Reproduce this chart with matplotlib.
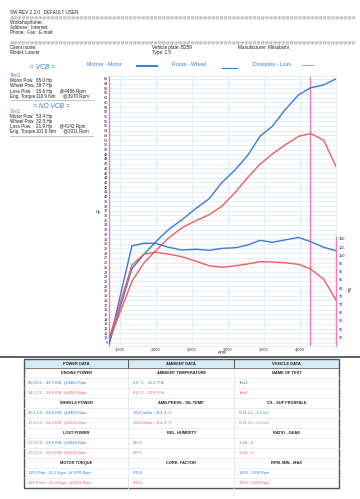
import matplotlib
matplotlib.use("Agg")
import matplotlib.pyplot as plt
from matplotlib.lines import Line2D
from matplotlib.patches import Rectangle

# ---------------- data ----------------
rpm = [1350, 1665, 1830, 1995, 2165, 2360, 2555, 2740, 2910, 3100, 3270,
       3445, 3620, 3785, 3980, 4148, 4328, 4500]
power_test1 = [8.9, 24.7, 27.7, 30.4, 32.9, 35.1, 37.5, 39.6, 42.9, 45.7, 48.7,
               52.8, 55.0, 58.3, 61.6, 63.1, 63.7, 65.0]
power_test2 = [9.5, 22.0, 25.9, 28.5, 31.1, 33.4, 34.9, 36.2, 37.9, 40.9, 44.0,
               46.9, 49.1, 50.9, 52.8, 53.4, 52.0, 46.4]
torque_test1 = [46.5, 105.7, 107.3, 107.3, 105.0, 103.2, 103.7, 103.0, 104.2, 104.6, 106.2,
                109.1, 107.9, 109.3, 110.9, 108.3, 104.9, 102.8]
torque_test2 = [49.4, 94.0, 100.6, 101.9, 100.8, 99.1, 96.4, 93.6, 92.7, 93.6, 94.7,
                96.1, 95.9, 95.5, 94.5, 91.6, 85.5, 72.7]
marker_rpm = 4142

hp_ticks = list(range(9, 66))
nm_ticks = list(range(50, 111, 5))
rpm_ticks = [1500, 2000, 2500, 3000, 3500, 4000]
rpm_tick_labels = ["1,500", "2,000", "2,500", "3,000", "3,500", "4,000"]

header_lines = ["SW REV 2.2.0   DEFAULT USER", "Workshop/tuner:", "Address:  Internet:", "Phone:  Fax:  E-mail:"]
client_left = ["Client name:", "Model: Lancer"]
client_mid = ["Vehicle plate: B259", "Type: 1.5"]
client_right = ["Manufacturer: Mitsubishi"]

legend_labels = ["Motore - Motor", "Ruota - Wheel", "Dissipata - Loss"]

info_labels = ["Motor Pow.", "Wheel Pow.", "Loss Pow.", "Eng. Torque"]
info_test1 = ["65.0 Hp", "39.7 Hp", "26.6 Hp      @4486 Rpm", "110.9 Nm      @3970 Rpm"]
info_test2 = ["53.4 Hp", "32.5 Hp", "21.9 Hp      @4142 Rpm", "101.9 Nm      @2011 Rpm"]
test_names = ["Test1", "Test2"]
notes = ["= VCB =", "= NO VCB ="]

col_headers = ["POWER DATA", "AMBIENT DATA", "VHEICLE DATA"]
power_sections = ["ENGINE POWER", "WHEELS POWER", "LOST POWER", "MOTOR TORQUE"]
power_t1 = ["66.0 CV - 48.5 KW  @4486 Rpm", "40.2 CV - 29.6 KW  @4486 Rpm",
            "27.0 CV - 19.8 KW  @4486 Rpm", "110.9 Nm - 11.3 Kgm  @3970 Rpm"]
power_t2 = ["54.2 CV - 39.8 KW  @4142 Rpm", "33.0 CV - 24.2 KW  @4142 Rpm",
            "22.3 CV - 16.4 KW  @4142 Rpm", "101.9 Nm - 10.4 Kgm  @2011 Rpm"]
ambient_sections = ["AMBIENT TEMPERATURE", "AMB.PRESS - OIL TEMP.", "REL. HUMIDITY", "CORR. FACTOR"]
ambient_t1 = ["0.0 °C - 32.0 °Fth", "1025 mBar - 451.9 °C", "40 %", "0.954"]
ambient_t2 = ["0.0 °C - 32.0 °Fth", "1025 mBar - 451.9 °C", "40 %", "0.954"]
vehicle_sections = ["NAME OF TEST", "CX - SUP FRONTALE", "RATIO - GEAR", "RPM. MIN - MAX"]
vehicle_t1 = ["Test1", "0.31 Cx - 2.5 m2", "1.64 - 4", "1600 - 5000 Rpm"]
vehicle_t2 = ["Test2", "0.31 Cx - 2.5 m2", "1.64 - 4", "1600 - 5000 Rpm"]

# ---------------- style ----------------
BLUE = "#3a7bd5"
RED = "#ef5d5d"
PINK = "#f07cc4"
GRID = "#d9e6f2"
TXT = "#222222"
plt.rcParams["font.family"] = ["Liberation Sans", "DejaVu Sans"]

W, H = 360, 499
fig = plt.figure(figsize=(W / 100, H / 100), dpi=100)
fig.patch.set_facecolor("white")

bg = fig.add_axes([0, 0, 1, 1])
bg.set_xlim(0, W)
bg.set_ylim(H, 0)
bg.axis("off")

# header
FS = 3.3
bg.text(9.5, 12.3, header_lines[0], fontsize=FS, color=TXT, va="center")
for i, t in enumerate(header_lines[1:]):
    bg.text(9.5, 22.7 + 5.0 * i, t, fontsize=FS, color=TXT, va="center")
for yy in (17.3, 42.0):
    bg.text(9.5, yy, "@" * 84, fontsize=2.9, color="#666666", va="center")
for i, t in enumerate(client_left):
    bg.text(9.5, 47.7 + 4.6 * i, t, fontsize=FS, color=TXT, va="center")
for i, t in enumerate(client_mid):
    bg.text(151.5, 47.7 + 4.6 * i, t, fontsize=FS, color=TXT, va="center")
bg.text(238.5, 47.7, client_right[0], fontsize=FS, color=TXT, va="center")

# legend above plot
bg.text(87, 64.5, legend_labels[0], fontsize=3.8, color=BLUE, va="center")
bg.add_line(Line2D([137, 157], [66, 66], color=BLUE, lw=1.4))
bg.text(172, 64.5, legend_labels[1], fontsize=3.8, color=BLUE, va="center")
bg.add_line(Line2D([222, 237], [67.5, 67.5], color=BLUE, lw=0.8))
bg.text(253, 64.5, legend_labels[2], fontsize=3.8, color=BLUE, va="center")
bg.add_line(Line2D([302, 314], [65, 65], color=BLUE, lw=0.4))

# info panel
bg.text(30, 67.5, notes[0], fontsize=4.8, color=BLUE, va="center", style="italic")
bg.text(33, 106.5, notes[1], fontsize=4.8, color=BLUE, va="center", style="italic")
for block, (name, vals, col, y0, ysep) in enumerate([
        (test_names[0], info_test1, BLUE, 75.7, 99.7),
        (test_names[1], info_test2, RED, 111.3, 136.3)]):
    bg.text(9.5, y0, name, fontsize=FS, color=col, va="center")
    for i, (lab, v) in enumerate(zip(info_labels, vals)):
        yy = y0 + 5.1 + 5.1 * i
        bg.text(9.5, yy, lab, fontsize=FS, color=TXT, va="center")
        bg.text(36, yy, v, fontsize=FS, color=TXT, va="center")
    bg.add_line(Line2D([9.5, 93], [ysep, ysep], color="#bbbbbb", lw=0.6))

# axis labels placed in page coords
bg.text(98.5, 212, "Hp", fontsize=2.8, color=TXT, va="center", ha="center")
bg.text(348, 290, "Nm", fontsize=2.8, color=TXT, va="center", ha="center", rotation=-90)
bg.text(221.7, 353.5, "RPM", fontsize=2.8, color=TXT, va="center", ha="center")

# dark band under the chart
bg.add_line(Line2D([0, 360], [357.3, 357.3], color="#555555", lw=1.3))

# ---------------- table ----------------
tx0, tx1, tx2, tx3 = 24, 128.3, 234.3, 339.3
ty0, tyh, tyb = 359, 368.3, 488.3
bg.add_patch(Rectangle((tx0, ty0), tx3 - tx0, tyh - ty0, facecolor="#d7ebf7", edgecolor="none"))
for k in range(1, 12):
    yy = tyh + 10 * k
    bg.add_line(Line2D([tx0, tx3], [yy, yy], color="#e1e8ef", lw=0.5))
for xx in (tx1, tx2):
    bg.add_line(Line2D([xx, xx], [ty0, tyh], color="#555555", lw=0.7))
    bg.add_line(Line2D([xx, xx], [tyh, tyb], color="#dfe6ee", lw=0.6))
bg.add_line(Line2D([tx0, tx3], [tyh, tyh], color="#666666", lw=0.6))
bg.add_patch(Rectangle((tx0, ty0), tx3 - tx0, tyb - ty0, facecolor="none", edgecolor="#555555", lw=1.0))

TFS = 2.9
cols = [(tx0, tx1, power_sections, power_t1, power_t2),
        (tx1, tx2, ambient_sections, ambient_t1, ambient_t2),
        (tx2, tx3, vehicle_sections, vehicle_t1, vehicle_t2)]
for c, (xa, xb, secs, t1, t2) in enumerate(cols):
    bg.text((xa + xb) / 2, (ty0 + tyh) / 2, col_headers[c], fontsize=TFS, color=TXT,
            fontweight="bold", ha="center", va="center")
    for s in range(4):
        yb = tyh + 30 * s
        bg.text((xa + xb) / 2, yb + 4.5, secs[s], fontsize=TFS, color=TXT,
                fontweight="bold", ha="center", va="center")
        bg.text(xa + 4.3, yb + 14.3, t1[s], fontsize=TFS, color=BLUE, va="center")
        bg.text(xa + 4.3, yb + 24.3, t2[s], fontsize=TFS, color=RED, va="center")

# ---------------- chart ----------------
left, right, top, bottom = 109.3, 336.3, 76.0, 346.0
ax = fig.add_axes([left / W, 1 - bottom / H, (right - left) / W, (bottom - top) / H])
ax.patch.set_alpha(0)
ax.set_xlim(1351, 4504)
ax.set_ylim(8.3, 65.6)
ax.set_yticks(hp_ticks)
ax.set_yticklabels([str(v) for v in hp_ticks])
ax.set_xticks(rpm_ticks)
ax.set_xticklabels(rpm_tick_labels)
ax.tick_params(axis="both", length=0, labelsize=2.8, colors=TXT, pad=1.0)
ax.grid(True, color=GRID, lw=0.45)
ax.set_axisbelow(True)
for s in ("top", "right", "bottom"):
    ax.spines[s].set_color(GRID)
    ax.spines[s].set_linewidth(0.5)
ax.spines["left"].set_color(PINK)
ax.spines["left"].set_linewidth(1.0)
ax.axvline(marker_rpm, color=PINK, lw=1.0, zorder=1)

ax.plot(rpm, power_test1, color=BLUE, lw=1.0, zorder=3)
ax.plot(rpm, power_test2, color=RED, lw=1.0, zorder=3)

ax2 = ax.twinx()
ax2.set_ylim(44.7, 209.3)
ax2.set_yticks(nm_ticks)
ax2.set_yticklabels([str(v) for v in nm_ticks])
ax2.tick_params(axis="y", length=0, labelsize=2.8, colors=TXT, pad=2.0)
for s in ("top", "left", "bottom"):
    ax2.spines[s].set_visible(False)
ax2.spines["right"].set_color(PINK)
ax2.spines["right"].set_linewidth(1.0)
ax2.spines["right"].set_bounds(44.7, 111.3)
ax2.plot(rpm, torque_test1, color=BLUE, lw=1.0, zorder=3)
ax2.plot(rpm, torque_test2, color=RED, lw=1.0, zorder=3)

fig.savefig("out.png", dpi=100, facecolor="white")
